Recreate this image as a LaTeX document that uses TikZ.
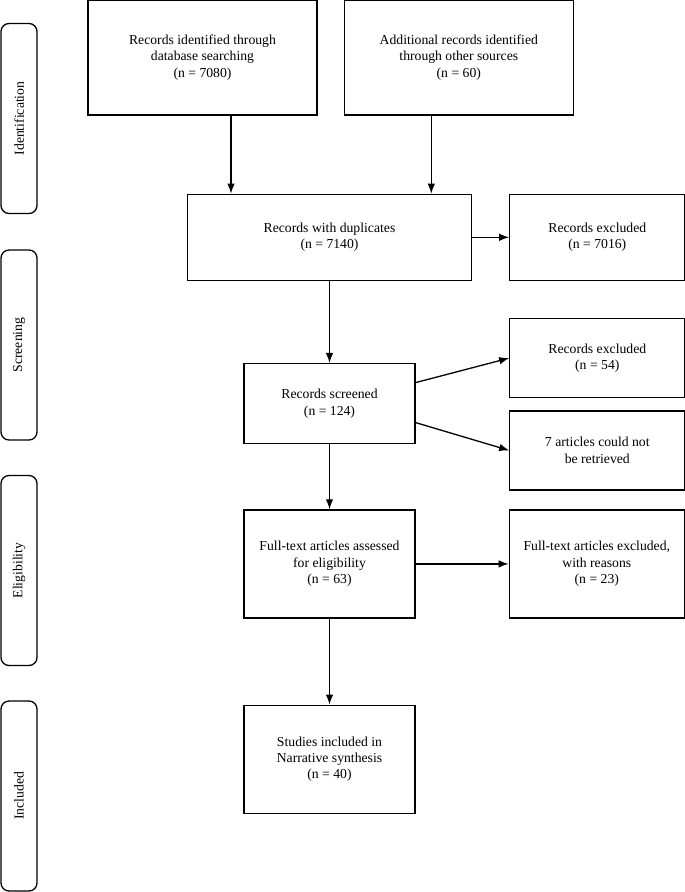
\documentclass[tikz,border=0pt]{standalone}
\usepackage{fontspec}
\setmainfont{Liberation Serif}
\usepackage{tikz}
\usetikzlibrary{calc}
\usetikzlibrary{positioning}
\usetikzlibrary{shapes,arrows.meta}

\begin{document}
\begin{tikzpicture} [>={Latex[length=10pt,width=7.5pt]}, x=1pt, y=-1pt, font=\fontsize{13.7}{16.4}\selectfont]
            % Set primary nodes
            \tikzset{
                sourceNode/.style={
                        draw,
                        rectangle,
                        line width=1.3pt,
                        align=center,
                        minimum height=115pt,
                        minimum width=229pt
                    }
            }
            \tikzset{
                stepNode/.style={
                        draw,
                        rectangle,
                        line width=1.3pt,
                        align=center,
                        minimum height=108pt,
                        minimum width=171pt
                    }
            }
            \tikzset{
                excludedNode/.style={
                        draw,
                        rectangle,
                        line width=1.3pt,
                        align=center,
                        minimum height=79pt,
                        minimum width=175pt
                    }
            }
            \tikzset{
                phaseNode/.style={
                        draw,
                        rectangle,
                        rounded corners=8pt,
                        line width=1.3pt,
                        minimum height=190pt,
                        minimum width=36pt
                    }
            }
            % Configure arrows
            \tikzstyle{arrow} = [line width=1.3pt, ->]
            \useasboundingbox (0,0) rectangle (685,892);
            % Placing nodes
            \node[phaseNode](identification) at (19,118.5){};
            \node[rotate=90] at (identification){Identification};
            \node[phaseNode](screening) at (19,345){};
            \node[rotate=90] at (screening){Screening};
            \node[phaseNode](eligibility) at (19,570.5){};
            \node[rotate=90] at (eligibility){Eligibility};
            \node[phaseNode](included) at (19,796){};
            \node[rotate=90] at (included){Included};
            \node[sourceNode](search) at (202.5,57.5){Records identified through\\database searching\\(n = 7080)};
            \node[sourceNode, right = 26pt of search](other){Additional records identified\\through other sources\\(n = 60)};
            \node[stepNode, minimum width=284pt, minimum height=86pt, below = 78pt of search, xshift = 127pt](dup){Records with duplicates\\(n = 7140)};
            \node[excludedNode, minimum height=86pt, right = 37pt of dup](excl1){Records excluded\\(n = 7016)};
            \node[stepNode, minimum height=80pt, below = 82pt of dup](screened){Records screened\\(n = 124)};
            \node[excludedNode, below = 37pt of excl1](excl2){Records excluded\\(n = 54)};
            \node[excludedNode, below = 12pt of excl2](retrieved){7 articles could not\\be retrieved};
            \node[stepNode, below = 65pt of screened](fulltext){Full-text articles assessed\\for eligibility\\(n = 63)};
            \node[excludedNode, minimum height=108pt, right = 93pt of fulltext](excl3){Full-text articles excluded,\\with reasons\\(n = 23)};
            \node[stepNode, below = 86pt of fulltext](studies){Studies included in\\Narrative synthesis\\(n = 40)};
            % Draw arrows
            \draw[arrow]([xshift=28.5pt]search.south) -- ([xshift=28.5pt]search.south |- dup.north);
            \draw[arrow]([xshift=-27.5pt]other.south) -- ([xshift=-27.5pt]other.south |- dup.north);
            \draw[arrow](dup.east) -- (excl1.west);
            \draw[arrow](dup.south) -- (screened.north);
            \draw[arrow]([yshift=21pt]screened.east) -- (excl2.west);
            \draw[arrow]([yshift=-19pt]screened.east) -- (retrieved.west);
            \draw[arrow](screened.south) -- (fulltext.north);
            \draw[arrow](fulltext.east) -- (excl3.west);
            \draw[arrow](fulltext.south) -- (studies.north);
        \end{tikzpicture}
\end{document}
